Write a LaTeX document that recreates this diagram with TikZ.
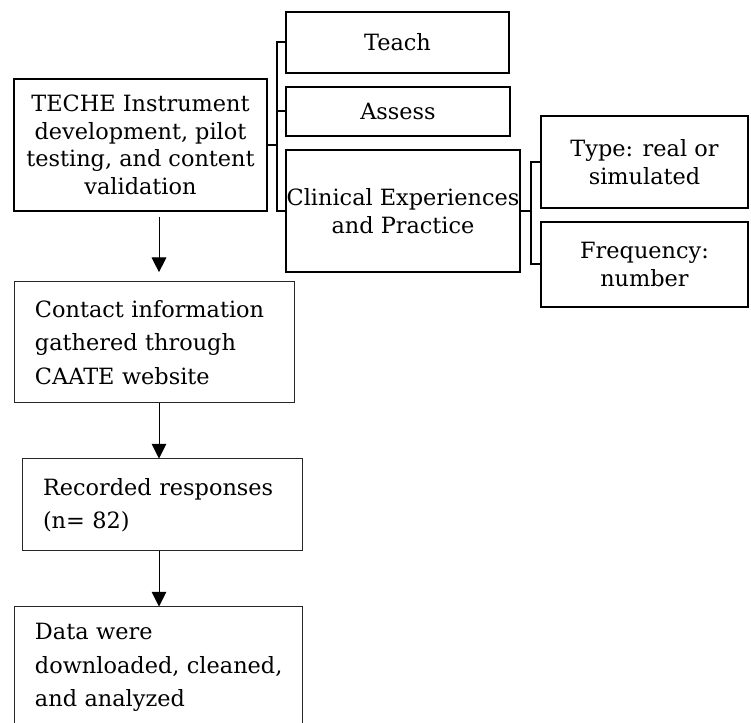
\documentclass[tikz,border=0pt]{standalone}
\usepackage{fontspec}
\setmainfont{DejaVu Serif}
\usetikzlibrary{arrows.meta}

\tikzset{every picture/.style={line width=0.75pt}}
\tikzset{
  thickbox/.style={draw, line width=1.5pt, inner sep=0pt, align=center, font=\fontsize{16.8}{20.6}\selectfont},
  thinbox/.style={draw=black!85, line width=0.75pt, inner xsep=15.75pt, inner ysep=0pt, align=left, font=\fontsize{16.8}{25.1}\selectfont},
  bracket/.style={line width=1.5pt},
  flow/.style={-{Triangle[length=11pt,width=11pt]}, line width=0.75pt}
}

\begin{document}
\begin{tikzpicture}[x=0.75pt,y=0.75pt,yscale=-1,xscale=1]
\useasboundingbox (0,0) rectangle (751,723);
\clip (0,0) rectangle (751,723);

%Shape: Rectangle
\node (teche) [thickbox, minimum width=189.75pt, minimum height=99pt] at (140.5,145) {TECHE Instrument\\development, pilot\\testing, and content\\validation};
%Shape: Rectangle
\node (teach) [thickbox, minimum width=167.25pt, minimum height=45.75pt] at (397.5,42.5) {Teach};
%Shape: Rectangle
\node (assess) [thickbox, minimum width=168pt, minimum height=36.75pt] at (398,111.5) {Assess};
%Shape: Rectangle
\node (clin) [thickbox, minimum width=175.5pt, minimum height=91.5pt] at (403,211) {Clinical Experiences\\and Practice};
%Shape: Rectangle
\node (type) [thickbox, minimum width=155.25pt, minimum height=69pt] at (644.5,162) {Type: real or\\simulated};
%Shape: Rectangle
\node (freq) [thickbox, minimum width=155.25pt, minimum height=63.75pt] at (644.5,264.5) {Frequency:\\number};

%Shape: Rectangle
\node (contact) [thinbox, text width=178.5pt, minimum height=90.75pt] at (154,342.5) {Contact information\\gathered through\\CAATE website};
%Shape: Rectangle
\node (recorded) [thinbox, text width=178.5pt, minimum height=69pt] at (162,505) {Recorded responses\\(n= 82)};
%Shape: Rectangle
\node (data) [thinbox, text width=184.5pt, minimum height=90.75pt] at (158,667.5) {Data were\\downloaded,~cleaned,\\and analyzed};

%Straight Lines
\coordinate (b1) at (277,0);
\coordinate (b2) at (531,0);
\draw [bracket] (teche.east) -- (teche.east -| b1);
\draw [bracket] (teach.west) -| (b1 |- clin.west) -- (clin.west);
\draw [bracket] (assess.west) -- (assess.west -| b1);
\draw [bracket] (clin.east) -- (clin.east -| b2);
\draw [bracket] (type.west) -| (b2 |- freq.west) -- (freq.west);

%Straight Lines
\coordinate (spine) at (159,0);
\draw [flow, shorten <=3.75pt, shorten >=7pt] (spine |- teche.south) -- (spine |- contact.north);
\draw [flow] (spine |- contact.south) -- (spine |- recorded.north);
\draw [flow] (spine |- recorded.south) -- (spine |- data.north);

\end{tikzpicture}
\end{document}
